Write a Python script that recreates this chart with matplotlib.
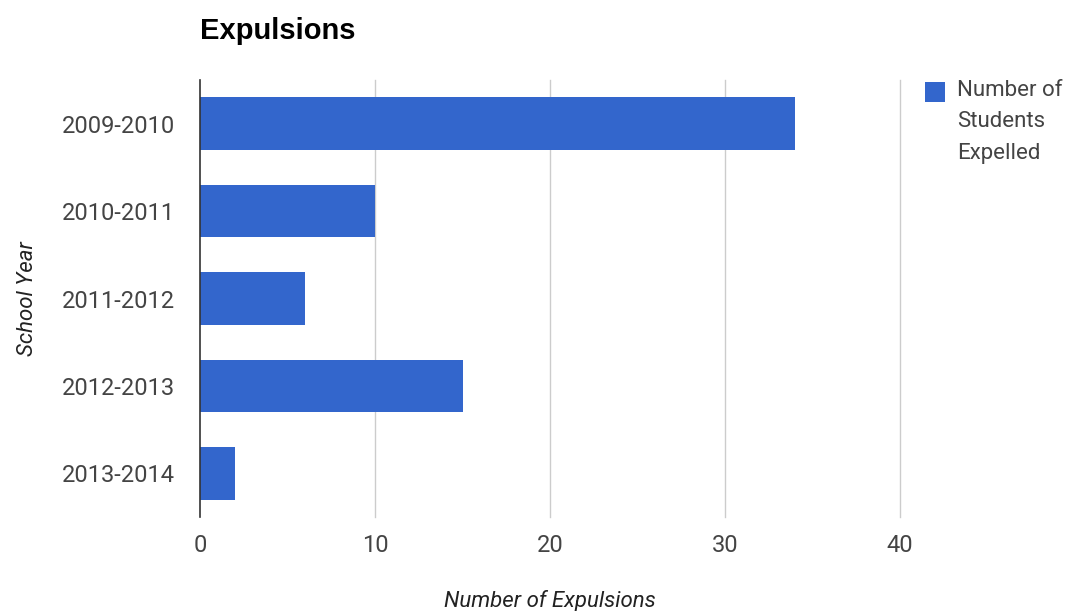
import matplotlib.pyplot as plt
from matplotlib.patches import Rectangle

# Datos
school_years = ["2009-2010", "2010-2011", "2011-2012", "2012-2013", "2013-2014"]
expulsions = [34, 10, 6, 15, 2]
x_ticks = [0, 10, 20, 30, 40]
series_name = "Number of\nStudents\nExpelled"

bar_color = "#3366cc"
text_color = "#444444"

fig = plt.figure(figsize=(10.69, 6.11), dpi=100)
ax = fig.add_axes([200 / 1069, 1 - 517 / 611, 700 / 1069, 437 / 611])

pos = list(range(len(school_years)))
ax.barh(pos, expulsions, height=0.6, color=bar_color, zorder=3)
ax.set_ylim(len(school_years) - 0.5, -0.5)
ax.set_xlim(0, 40)

ax.set_yticks(pos)
ax.set_yticklabels(school_years, fontfamily="Roboto", fontsize=17, color=text_color)
ax.set_xticks(x_ticks)
ax.set_xticklabels([str(t) for t in x_ticks], fontfamily="Roboto", fontsize=17, color=text_color)
ax.tick_params(axis="y", length=0, pad=18)
ax.tick_params(axis="x", length=0, pad=12)

# Rejilla vertical
for t in x_ticks[1:]:
    ax.axvline(t, color="#cccccc", linewidth=1, zorder=0, clip_on=False)
for s in ["top", "right", "bottom"]:
    ax.spines[s].set_visible(False)
ax.spines["left"].set_color("#333333")
ax.spines["left"].set_linewidth(1.2)
ax.spines["left"].set_zorder(4)

ax.set_xlabel("Number of Expulsions", fontfamily="Roboto", fontsize=16,
              style="italic", color="#222222", labelpad=24)
ax.set_ylabel("School Year", fontfamily="Roboto", fontsize=16,
              style="italic", color="#222222", labelpad=17)

# Titulo
fig.text(200 / 1069, 1 - 31 / 611, "Expulsions", fontfamily="Liberation Sans",
         fontweight="bold", fontsize=21, color="#000000", va="center", ha="left")

# Leyenda manual
fig.patches.append(Rectangle((925 / 1069, 1 - 102 / 611), 20 / 1069, 20 / 611,
                             transform=fig.transFigure, facecolor=bar_color,
                             edgecolor="none"))
fig.text(957 / 1069, 1 - 80 / 611, series_name, fontfamily="Roboto", fontsize=16,
         color=text_color, va="top", ha="left", linespacing=1.65)

plt.savefig("out.png", dpi=100)
plt.close()
